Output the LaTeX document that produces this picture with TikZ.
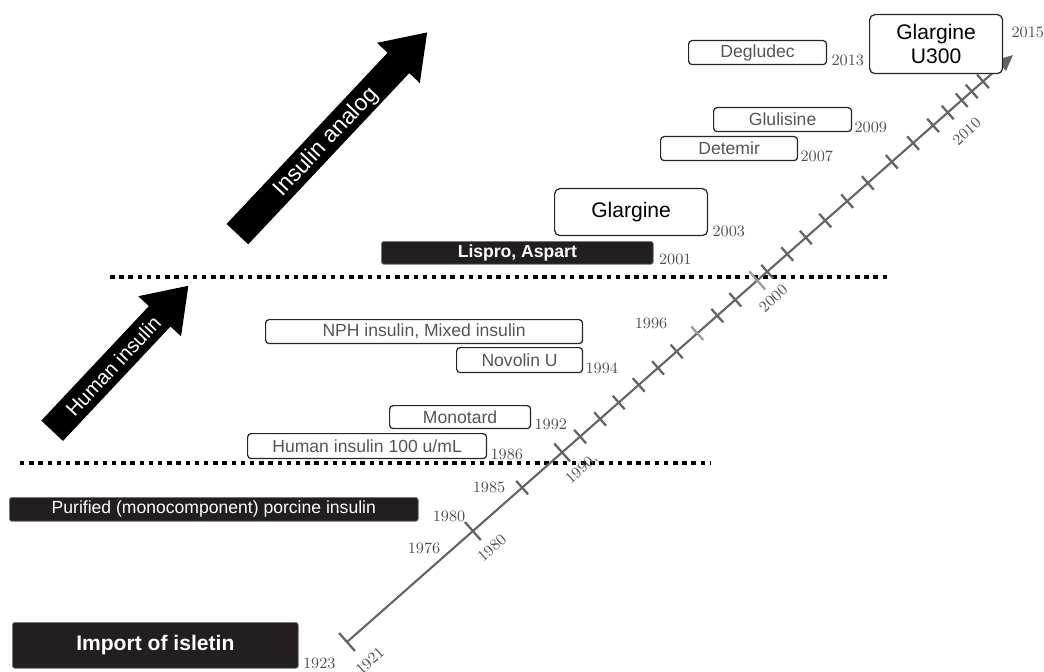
\documentclass[tikz,border=0pt]{standalone}
\usepackage{fontspec}
\usetikzlibrary{arrows.meta,positioning,calc,shapes.arrows}
\newfontfamily\arialfont{Liberation Sans}
\definecolor{boxtext}{RGB}{85,85,85}
\definecolor{axgray}{RGB}{100,100,100}
\definecolor{yrgray}{RGB}{80,80,80}
\definecolor{ltgray}{RGB}{155,155,155}
\definecolor{inkblack}{RGB}{35,31,32}

\begin{document}
\begin{tikzpicture}[x=0.02cm, y=-0.02cm,
  darkbox/.style={fill=inkblack, draw=gray, line width=0.4pt, rounded corners=1.5pt,
    text=white, inner sep=0pt, font=\arialfont\fontsize{10}{12}\selectfont},
  litebox/.style={draw=black!85, line width=0.7pt, rounded corners=2pt, fill=white,
    text=boxtext, inner sep=0pt, font=\arialfont\fontsize{10}{12}\selectfont},
  bigbox/.style={litebox, text=black, rounded corners=3pt, align=center,
    font=\arialfont\fontsize{12}{14}\selectfont},
  yearlab/.style={text=yrgray, inner sep=0pt, font=\fontsize{9}{10}\selectfont},
  bigarrow/.style={single arrow, fill=black, text=white, single arrow tip angle=70,
    single arrow head extend=0.29cm, inner ysep=0.04cm, text height=0.4cm, text depth=0.1cm,
    font=\arialfont\fontsize{13}{15}\selectfont},
  sepline/.style={line width=0.08cm, dash pattern=on 0.09cm off 0.094cm},
  axisline/.style={axgray, line width=1.2pt, -{Triangle[length=9pt,width=8pt]}},
]
\useasboundingbox (0,0) rectangle (1044,672);

% era arrows
\node[bigarrow, rotate=46.8, minimum height=3.98cm,
      font=\arialfont\fontsize{11.5}{14}\selectfont] (humarr) at (113,366) {Human insulin};
\node[bigarrow, rotate=46.75, minimum height=5.54cm] (anaarr) at (325,141) {Insulin analog};

% era separators
\draw[sepline] (20,463) -- (710,463);
\draw[sepline] (110,277) -- (887,277);

% time axis
\coordinate (ax0) at (347,642);
\coordinate (ax1) at (1013,55);
\draw[axisline] (ax0) -- (ax1);
\foreach \t/\len/\col in {0/0.24cm/axgray, 0.189/0.24cm/axgray, 0.263/0.18cm/axgray,
    0.323/0.24cm/axgray, 0.350/0.18cm/axgray, 0.380/0.18cm/axgray, 0.408/0.18cm/axgray,
    0.438/0.18cm/axgray, 0.467/0.18cm/axgray, 0.495/0.18cm/axgray, 0.526/0.18cm/ltgray,
    0.556/0.18cm/axgray, 0.583/0.18cm/axgray, 0.616/0.24cm/ltgray, 0.631/0.18cm/axgray,
    0.661/0.18cm/axgray, 0.689/0.18cm/axgray, 0.718/0.18cm/axgray, 0.751/0.18cm/axgray,
    0.782/0.18cm/axgray, 0.818/0.18cm/axgray, 0.850/0.18cm/axgray, 0.880/0.18cm/axgray,
    0.902/0.18cm/axgray, 0.923/0.18cm/axgray, 0.938/0.18cm/axgray, 0.955/0.18cm/axgray}
  \draw[\col, line width=1.3pt] ($(ax0)!\t!(ax1)!\len!90:(ax1)$) -- ($(ax0)!\t!(ax1)!\len!-90:(ax1)$);
\foreach \yr/\t in {1921/0, 1980/0.189, 1990/0.323, 2000/0.616, 2010/0.902}
  \coordinate (t\yr) at ($(ax0)!\t!(ax1)$);

% axis years
\node[yearlab, rotate=42] (r1921) at ($(t1921)+(23,19)$) {1921};
\node[yearlab, rotate=42] (r1980) at ($(t1980)+(19,17)$) {1980};
\node[yearlab, rotate=42] (r1990) at ($(t1990)+(20,17)$) {1990,};
\node[yearlab, rotate=42] (r2000) at ($(t2000)+(16,18)$) {2000};
\node[yearlab, rotate=42] (r2010) at ($(t2010)+(19,19)$) {2010};
\node[yearlab] (y1976) at (424,548) {1976};
\node[yearlab] (y1980) at (449,516) {1980};
\node[yearlab] (y1985) at (489,487) {1985};
\node[yearlab] (y1996) at (651,323) {1996};

% products
\node[darkbox, anchor=north west, minimum width=5.72cm, minimum height=0.92cm,
      font=\arialfont\bfseries\fontsize{12}{14}\selectfont] (isletin) at (12,622) {Import of isletin};
\node[darkbox, anchor=north west, minimum width=8.18cm, minimum height=0.48cm] (porcine) at (9,497)
      {Purified (monocomponent) porcine insulin};
\node[litebox, anchor=north west, minimum width=4.78cm, minimum height=0.5cm] (hum100) at (247,433)
      {Human insulin 100 u/mL};
\node[litebox, anchor=north west, minimum width=2.82cm, minimum height=0.46cm] (monotard) at (389,405)
      {Monotard};
\node[litebox, anchor=north west, minimum width=2.52cm, minimum height=0.5cm] (novolin) at (456,347)
      {Novolin U};
\node[litebox, anchor=north west, minimum width=6.34cm, minimum height=0.48cm] (nph) at (265,319)
      {NPH insulin, Mixed insulin};
\node[darkbox, anchor=north west, minimum width=5.44cm, minimum height=0.46cm,
      font=\arialfont\bfseries\fontsize{10}{12}\selectfont] (lispro) at (381,241) {Lispro, Aspart};
\node[bigbox, anchor=north west, minimum width=3.06cm, minimum height=0.94cm] (glargine) at (554,188)
      {Glargine};
\node[litebox, anchor=north west, minimum width=2.74cm, minimum height=0.48cm] (detemir) at (660,136)
      {Detemir};
\node[litebox, anchor=north west, minimum width=2.76cm, minimum height=0.48cm] (glulisine) at (713,107)
      {Glulisine};
\node[litebox, anchor=north west, minimum width=2.76cm, minimum height=0.48cm] (degludec) at (688,40)
      {Degludec};
\node[bigbox, anchor=north west, minimum width=2.66cm, minimum height=1.18cm] (u300) at (869,14)
      {Glargine\\U300};

% product years
\node[yearlab, right=0.08cm of isletin.south east, anchor=base west] (y1923) {1923};
\node[yearlab, right=0.06cm of hum100.south east, anchor=base west] (y1986) {1986};
\node[yearlab, right=0.06cm of monotard.south east, anchor=base west] (y1992) {1992};
\node[yearlab, right=0.04cm of novolin.south east, anchor=base west] (y1994) {1994};
\node[yearlab, right=0.1cm of lispro.south east, anchor=base west] (y2001) {2001};
\node[yearlab, right=0.08cm of glargine.south east, anchor=base west] (y2003) {2003};
\node[yearlab, right=0.04cm of detemir.south east, anchor=base west] (y2007) {2007};
\node[yearlab, right=0.04cm of glulisine.south east, anchor=base west] (y2009) {2009};
\node[yearlab, right=0.08cm of degludec.south east, anchor=base west] (y2013) {2013};
\node[yearlab, below right=0.48cm and 0.16cm of u300.north east, anchor=base west] (y2015) {2015};
\end{tikzpicture}
\end{document}
